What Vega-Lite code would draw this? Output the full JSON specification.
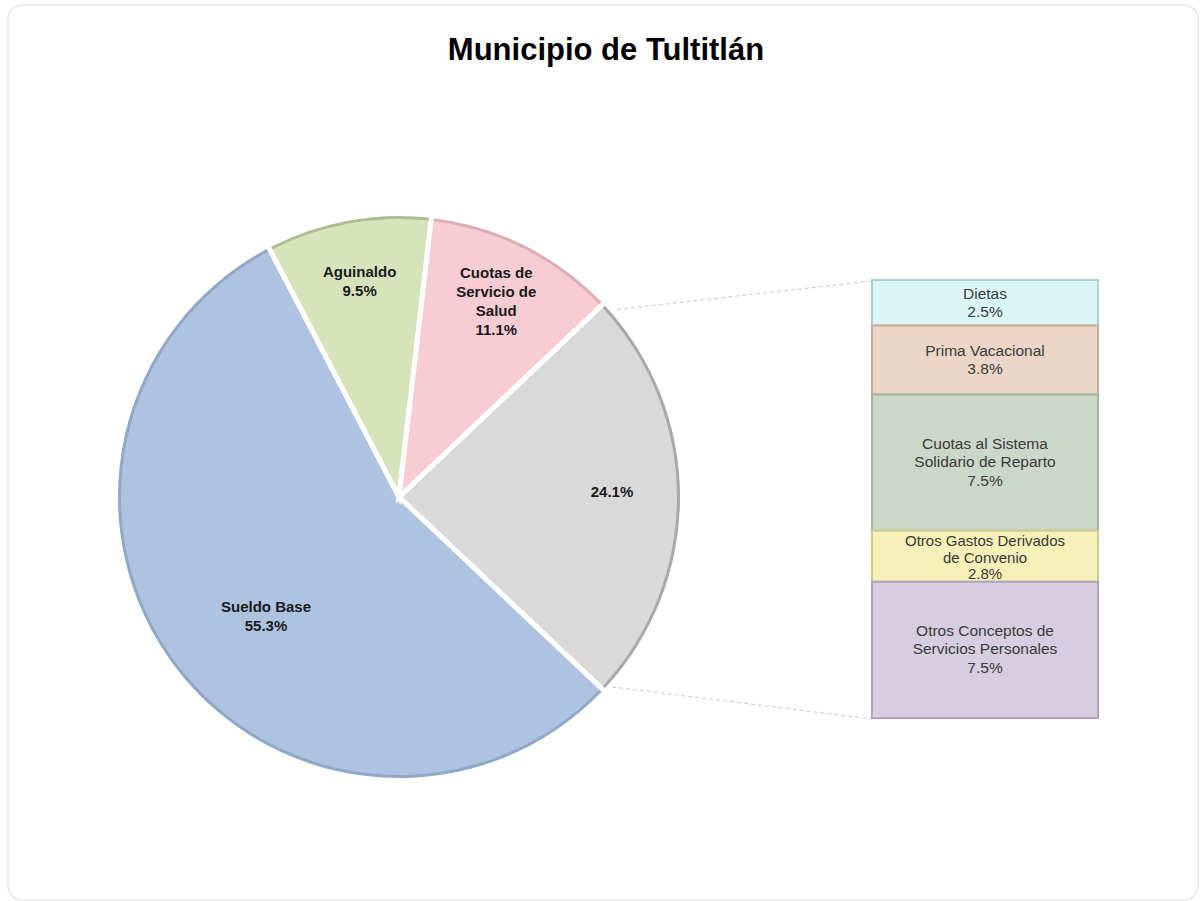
{
  "$schema": "https://vega.github.io/schema/vega-lite/v6.json",
  "width": 1190,
  "height": 895,
  "autosize": "none",
  "padding": {"left": 8, "top": 5, "right": 5, "bottom": 1},
  "background": "white",
  "title": {
    "text": "Municipio de Tultitlán",
    "font": "Liberation Sans",
    "fontSize": 31,
    "fontWeight": "bold",
    "color": "#000000",
    "anchor": "middle",
    "frame": "group",
    "baseline": "alphabetic",
    "offset": 0,
    "dy": 86,
    "dx": 3
  },
  "config": {
    "view": {"stroke": "#e6e6e6", "strokeWidth": 1.5, "cornerRadius": 14},
    "font": "Liberation Sans"
  },
  "datasets": {
    "pie": [
      {"concepto": "Otros", "pct": 24.1, "orden": 1, "etiqueta": "24.1%"},
      {"concepto": "Sueldo Base", "pct": 55.3, "orden": 2, "etiqueta": "Sueldo Base\n55.3%"},
      {"concepto": "Aguinaldo", "pct": 9.5, "orden": 3, "etiqueta": "Aguinaldo\n9.5%"},
      {"concepto": "Cuotas de Servicio de Salud", "pct": 11.1, "orden": 4, "etiqueta": "Cuotas de\nServicio de\nSalud\n11.1%"}
    ],
    "bar": [
      {"concepto": "Dietas", "pct": 2.5, "orden": 1, "etiqueta": "Dietas\n2.5%"},
      {"concepto": "Prima Vacacional", "pct": 3.8, "orden": 2, "etiqueta": "Prima Vacacional\n3.8%"},
      {"concepto": "Cuotas al Sistema Solidario de Reparto", "pct": 7.5, "orden": 3, "etiqueta": "Cuotas al Sistema\nSolidario de Reparto\n7.5%"},
      {"concepto": "Otros Gastos Derivados de Convenio", "pct": 2.8, "orden": 4, "etiqueta": "Otros Gastos Derivados\nde Convenio\n2.8%"},
      {"concepto": "Otros Conceptos de Servicios Personales", "pct": 7.5, "orden": 5, "etiqueta": "Otros Conceptos de\nServicios Personales\n7.5%"}
    ]
  },
  "resolve": {"scale": {"y": "independent"}},
  "layer": [
    {
      "data": {"values": [{}]},
      "mark": {"type": "rule", "color": "#c9c9c9", "strokeWidth": 1, "strokeDash": [4, 3]},
      "encoding": {
        "x": {"datum": 603, "type": "quantitative", "scale": {"domain": [8, 1198]}, "axis": null},
        "y": {"datum": 311, "type": "quantitative", "scale": {"domain": [5, 900], "reverse": true}, "axis": null},
        "x2": {"datum": 872},
        "y2": {"datum": 281}
      }
    },
    {
      "data": {"values": [{}]},
      "mark": {"type": "rule", "color": "#c9c9c9", "strokeWidth": 1, "strokeDash": [4, 3]},
      "encoding": {
        "x": {"datum": 605, "type": "quantitative", "scale": {"domain": [8, 1198]}, "axis": null},
        "y": {"datum": 686, "type": "quantitative", "scale": {"domain": [5, 900], "reverse": true}, "axis": null},
        "x2": {"datum": 872},
        "y2": {"datum": 719}
      }
    },
    {
      "data": {"name": "pie"},
      "mark": {"type": "arc", "outerRadius": 283, "stroke": "#ffffff", "strokeWidth": 5, "strokeJoin": "miter"},
      "encoding": {
        "x": {"datum": 399, "type": "quantitative", "scale": {"domain": [8, 1198]}, "axis": null},
        "y": {"datum": 497, "type": "quantitative", "scale": {"domain": [5, 900], "reverse": true}, "axis": null},
        "theta": {"field": "pct", "type": "quantitative", "stack": true, "scale": {"range": [0.8134, 7.0966]}},
        "order": {"field": "orden", "type": "quantitative"},
        "color": {
          "field": "concepto", "type": "nominal", "legend": null,
          "scale": {
            "domain": ["Otros", "Sueldo Base", "Aguinaldo", "Cuotas de Servicio de Salud", "Dietas", "Prima Vacacional", "Cuotas al Sistema Solidario de Reparto", "Otros Gastos Derivados de Convenio", "Otros Conceptos de Servicios Personales"],
            "range": ["#d9d9d9", "#adc3e0", "#d6e3bb", "#f7ccd3", "#dbf6f7", "#ebd6c7", "#c9d8c7", "#f8f0b9", "#d6cde0"]
          }
        }
      }
    },
    {
      "data": {"name": "pie"},
      "mark": {"type": "arc", "outerRadius": 281, "innerRadius": 278, "padAngle": 0.013},
      "encoding": {
        "x": {"datum": 399, "type": "quantitative", "scale": {"domain": [8, 1198]}, "axis": null},
        "y": {"datum": 497, "type": "quantitative", "scale": {"domain": [5, 900], "reverse": true}, "axis": null},
        "theta": {"field": "pct", "type": "quantitative", "stack": true, "scale": {"range": [0.8134, 7.0966]}},
        "order": {"field": "orden", "type": "quantitative"},
        "fill": {
          "field": "concepto", "type": "nominal", "legend": null,
          "scale": {
            "domain": ["Otros", "Sueldo Base", "Aguinaldo", "Cuotas de Servicio de Salud"],
            "range": ["#a9a9a9", "#90a9c9", "#aebd8f", "#dcaeb6"]
          }
        }
      }
    },
    {
      "data": {"name": "pie"},
      "mark": {"type": "text", "radius": 178, "dx": 9, "dy": 3, "fontSize": 15, "fontWeight": "bold", "color": "#1a1a1a", "lineBreak": "\n", "lineHeight": 19, "baseline": "middle", "align": "center"},
      "encoding": {
        "x": {"datum": 399, "type": "quantitative", "scale": {"domain": [8, 1198]}, "axis": null},
        "y": {"datum": 497, "type": "quantitative", "scale": {"domain": [5, 900], "reverse": true}, "axis": null},
        "theta": {"field": "pct", "type": "quantitative", "stack": true, "scale": {"range": [0.8134, 7.0966]}},
        "order": {"field": "orden", "type": "quantitative"},
        "text": {"condition": {"test": "datum.concepto === 'Sueldo Base'", "field": "etiqueta"}, "value": ""}
      }
    },
    {
      "data": {"name": "pie"},
      "mark": {"type": "text", "radius": 217, "dy": -12, "fontSize": 15, "fontWeight": "bold", "color": "#1a1a1a", "lineBreak": "\n", "lineHeight": 19, "baseline": "middle", "align": "center"},
      "encoding": {
        "x": {"datum": 399, "type": "quantitative", "scale": {"domain": [8, 1198]}, "axis": null},
        "y": {"datum": 497, "type": "quantitative", "scale": {"domain": [5, 900], "reverse": true}, "axis": null},
        "theta": {"field": "pct", "type": "quantitative", "stack": true, "scale": {"range": [0.8134, 7.0966]}},
        "order": {"field": "orden", "type": "quantitative"},
        "text": {"condition": {"test": "datum.concepto === 'Aguinaldo'", "field": "etiqueta"}, "value": ""}
      }
    },
    {
      "data": {"name": "pie"},
      "mark": {"type": "text", "radius": 217, "dy": -30, "fontSize": 15, "fontWeight": "bold", "color": "#1a1a1a", "lineBreak": "\n", "lineHeight": 19, "baseline": "middle", "align": "center"},
      "encoding": {
        "x": {"datum": 399, "type": "quantitative", "scale": {"domain": [8, 1198]}, "axis": null},
        "y": {"datum": 497, "type": "quantitative", "scale": {"domain": [5, 900], "reverse": true}, "axis": null},
        "theta": {"field": "pct", "type": "quantitative", "stack": true, "scale": {"range": [0.8134, 7.0966]}},
        "order": {"field": "orden", "type": "quantitative"},
        "text": {"condition": {"test": "datum.concepto === 'Cuotas de Servicio de Salud'", "field": "etiqueta"}, "value": ""}
      }
    },
    {
      "data": {"name": "pie"},
      "mark": {"type": "text", "radius": 217, "dx": -4, "dy": -5, "fontSize": 15, "fontWeight": "bold", "color": "#1a1a1a", "lineBreak": "\n", "lineHeight": 19, "baseline": "middle", "align": "center"},
      "encoding": {
        "x": {"datum": 399, "type": "quantitative", "scale": {"domain": [8, 1198]}, "axis": null},
        "y": {"datum": 497, "type": "quantitative", "scale": {"domain": [5, 900], "reverse": true}, "axis": null},
        "theta": {"field": "pct", "type": "quantitative", "stack": true, "scale": {"range": [0.8134, 7.0966]}},
        "order": {"field": "orden", "type": "quantitative"},
        "text": {"condition": {"test": "datum.concepto === 'Otros'", "field": "etiqueta"}, "value": ""}
      }
    },
    {
      "data": {"name": "bar"},
      "transform": [
        {"stack": "pct", "groupby": [], "sort": [{"field": "orden", "order": "ascending"}], "as": ["y0", "y1"]},
        {"calculate": "(datum.y0 + datum.y1) / 2", "as": "ymid"}
      ],
      "encoding": {
        "x": {"datum": 872, "type": "quantitative", "scale": {"domain": [8, 1198]}, "axis": null}
      },
      "layer": [
        {
          "mark": {"type": "rect", "strokeWidth": 2},
          "encoding": {
            "x2": {"datum": 1098},
            "y": {"field": "y0", "type": "quantitative", "scale": {"domain": [0, 24.1], "range": [275, 713]}, "axis": null},
            "y2": {"field": "y1"},
            "color": {"field": "concepto", "type": "nominal", "legend": null},
            "stroke": {
              "field": "concepto", "type": "nominal", "legend": null,
              "scale": {
                "domain": ["Dietas", "Prima Vacacional", "Cuotas al Sistema Solidario de Reparto", "Otros Gastos Derivados de Convenio", "Otros Conceptos de Servicios Personales"],
                "range": ["#aad0d3", "#c9ad99", "#a1b69f", "#d3c98c", "#afa3c0"]
              }
            }
          }
        },
        {
          "transform": [{"filter": "datum.orden <= 2"}],
          "mark": {"type": "text", "fontSize": 15.5, "color": "#3a3a3a", "lineBreak": "\n", "lineHeight": 18.5, "baseline": "middle", "align": "center", "dy": -9},
          "encoding": {
            "x": {"datum": 985, "type": "quantitative", "scale": {"domain": [8, 1198]}, "axis": null},
            "y": {"field": "ymid", "type": "quantitative", "scale": {"domain": [0, 24.1], "range": [275, 713]}, "axis": null},
            "text": {"field": "etiqueta"}
          }
        },
        {
          "transform": [{"filter": "datum.orden === 3 || datum.orden === 5"}],
          "mark": {"type": "text", "fontSize": 15.5, "color": "#3a3a3a", "lineBreak": "\n", "lineHeight": 18.5, "baseline": "middle", "align": "center", "dy": -19},
          "encoding": {
            "x": {"datum": 985, "type": "quantitative", "scale": {"domain": [8, 1198]}, "axis": null},
            "y": {"field": "ymid", "type": "quantitative", "scale": {"domain": [0, 24.1], "range": [275, 713]}, "axis": null},
            "text": {"field": "etiqueta"}
          }
        },
        {
          "transform": [{"filter": "datum.orden === 4"}],
          "mark": {"type": "text", "fontSize": 15, "color": "#3a3a3a", "lineBreak": "\n", "lineHeight": 16.5, "baseline": "middle", "align": "center", "dy": -15},
          "encoding": {
            "x": {"datum": 985, "type": "quantitative", "scale": {"domain": [8, 1198]}, "axis": null},
            "y": {"field": "ymid", "type": "quantitative", "scale": {"domain": [0, 24.1], "range": [275, 713]}, "axis": null},
            "text": {"field": "etiqueta"}
          }
        }
      ]
    }
  ]
}
